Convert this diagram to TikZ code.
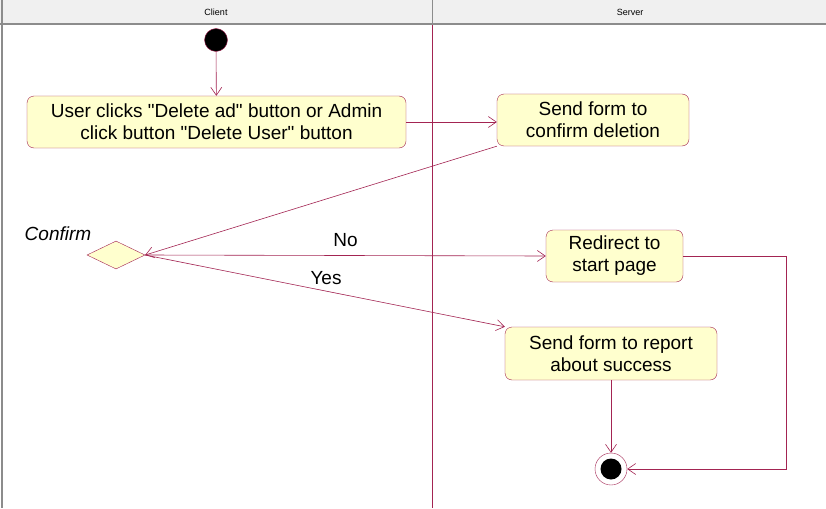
\documentclass[tikz,border=0pt]{standalone}
\usepackage{fontspec}
\setmainfont{Liberation Sans}
\usetikzlibrary{arrows.meta,shapes.geometric}
\definecolor{umlline}{RGB}{163,36,82}
\definecolor{umlfill}{RGB}{255,255,206}
\definecolor{lanehead}{RGB}{240,240,240}
\definecolor{lanegray}{RGB}{140,140,140}
\tikzset{
  action/.style = {draw = umlline, fill = umlfill, rounded corners = 7pt, inner sep = 0pt,
                   align = center, font = \fontsize{19}{22}\selectfont},
  flow/.style = {draw = umlline, semithick, -{Straight Barb[length=8pt,width=11pt]}},
  lbl/.style = {font = \fontsize{19}{20}\selectfont}
}
\begin{document}
\begin{tikzpicture}[x = 1pt, y = -1pt]
\useasboundingbox (0,0) rectangle (826,508);
\fill[white] (0,0) rectangle (826,508);
% swimlane header
\fill[lanehead] (0,0) rectangle (826,24);
\draw[lanegray, very thick] (0,24) -- (826,24);
\draw[lanegray, very thick] (2,0) -- (2,508);
\draw[lanegray, thick] (432,0) -- (432,24);
\node (client) at (216,12) {\fontsize{9}{10}\selectfont Client};
\node (server) at (630,12) {\fontsize{9}{10}\selectfont Server};
\draw[umlline] (432,25) -- (432,508);
% states
\node[circle, fill = black, draw = umlline, minimum size = 23pt, inner sep = 0pt] (start) at (216,40) {};
\node[action, minimum width = 379pt, minimum height = 52pt] (delete) at (216.5,122) {User clicks \textquotedbl Delete ad\textquotedbl\ button or Admin\\click button \textquotedbl Delete User\textquotedbl\ button};
\node[action, minimum width = 192pt, minimum height = 52pt] (confirm) at (593,120) {Send form to\\confirm deletion};
\node[diamond, draw = umlline, fill = umlfill, minimum width = 58pt, minimum height = 28pt, inner sep = 0pt, aspect = 2] (choice) at (116,255) {};
\node[font = \itshape\fontsize{19}{20}\selectfont] (choicelbl) at (58,234) {Confirm};
\node[action, minimum width = 137pt, minimum height = 52pt] (redirect) at (614.5,256) {Redirect to\\start page};
\node[action, minimum width = 212pt, minimum height = 53pt] (report) at (611,353.5) {Send form to report\\about success};
\node[circle, draw = umlline, fill = white, minimum size = 32pt, inner sep = 0pt] (stop) at (611,469) {};
\node[circle, fill = black, minimum size = 21pt, inner sep = 0pt] (stopdot) at (stop) {};
\coordinate (turn1) at (786,256);
\coordinate (turn2) at (786,469);
% transitions
\draw[flow] (start) -- (delete);
\draw[flow] (delete) -- (delete.east -| confirm.west);
\draw[flow] (confirm.south west) -- (choice.east);
\draw[flow] (choice.east) -- node[lbl, above = 5pt, pos = 0.5] (nolbl) {No} (redirect.west);
\draw[flow] (choice.east) -- node[lbl, pos = 0.5, above = 3pt, xshift = 1pt] (yeslbl) {Yes} (report.north west);
\draw[flow] (report) -- (stop);
\draw[flow] (redirect.east) -- (turn1) -- (turn2) -- (stop.east);
\end{tikzpicture}
\end{document}
